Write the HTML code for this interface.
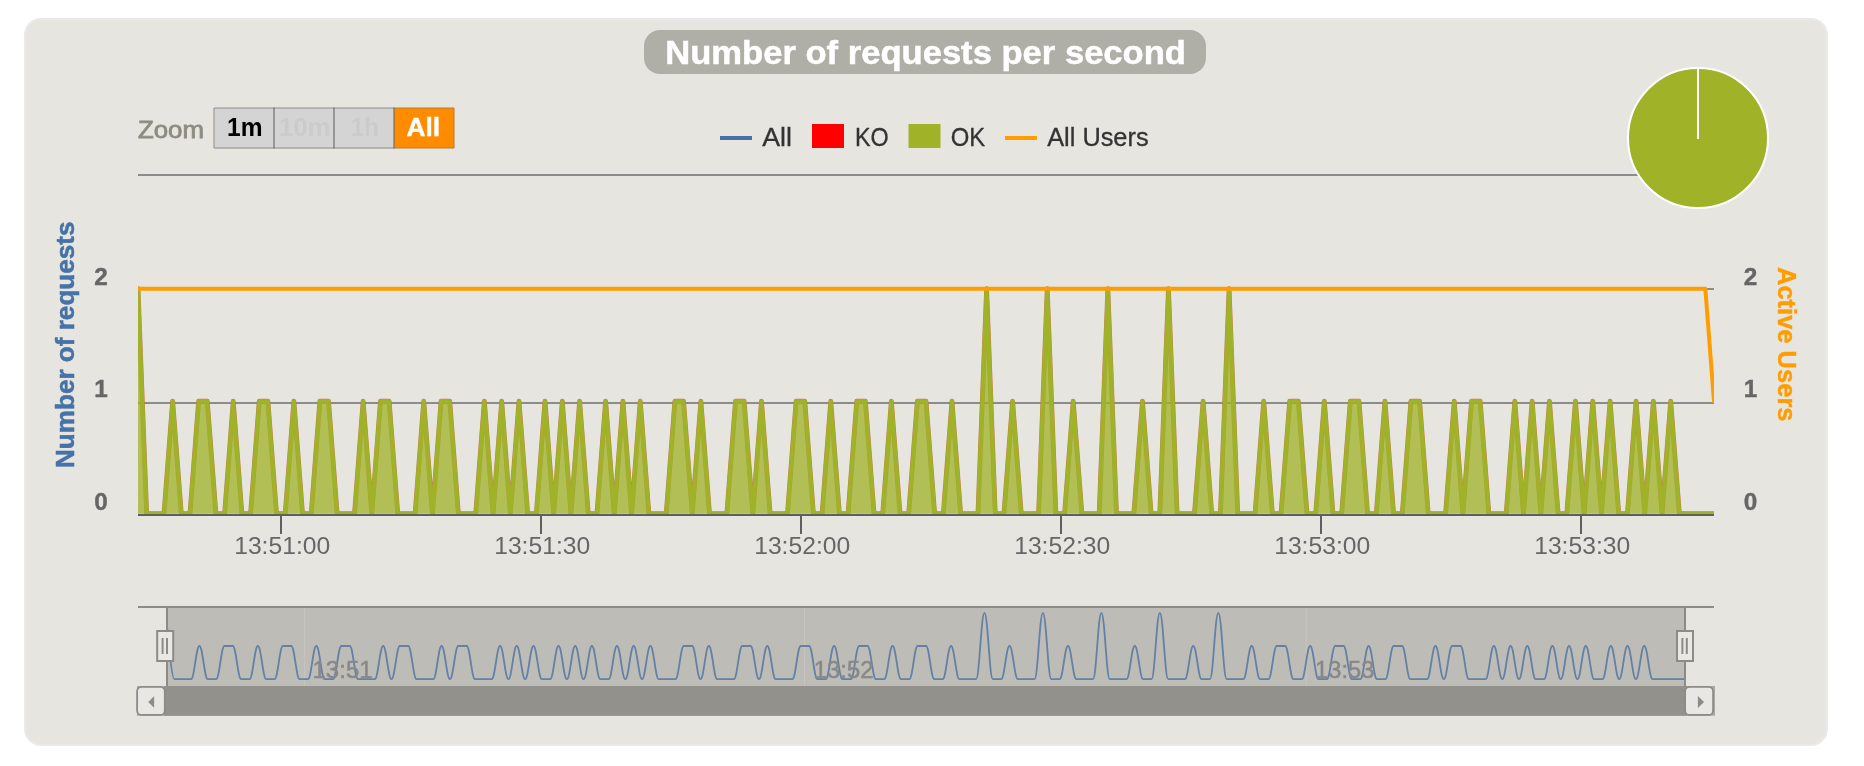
<!DOCTYPE html>
<html><head><meta charset="utf-8"><title>Number of requests per second</title>
<style>
html,body{margin:0;padding:0;background:#fff;}
body{width:1864px;height:766px;overflow:hidden;font-family:"Liberation Sans",sans-serif;}
svg{display:block;will-change:transform;font-family:"Liberation Sans",sans-serif;}
</style></head><body>
<svg width="1864" height="766" viewBox="0 0 1864 766">
<defs><clipPath id="plot"><rect x="138.0" y="170" width="1576.0" height="344"/></clipPath><clipPath id="nav"><rect x="167" y="600" width="1520.5" height="90"/></clipPath></defs>
<rect x="25" y="19" width="1802" height="726" rx="16" ry="16" fill="#E6E5E0" stroke="#EAEAEA" stroke-width="2"/>
<!-- title -->
<rect x="644" y="30" width="562" height="44" rx="16" ry="16" fill="#AFAEA7"/>
<text x="665.2" y="63.8" font-size="33" font-weight="bold" fill="#fff" stroke="#fff" stroke-width="0.5" textLength="520.8" lengthAdjust="spacingAndGlyphs">Number of requests per second</text>
<!-- zoom -->
<text x="138" y="137.5" font-size="24.5" fill="#8D8C80" stroke="#8D8C80" stroke-width="0.8" textLength="66" lengthAdjust="spacingAndGlyphs">Zoom</text>
<rect x="214" y="108" width="180" height="40" fill="#D4D4D4"/>
<rect x="394" y="108" width="60" height="40" fill="#FF8C00"/>
<path d="M214 108 H394 M214 148 H394 M214 108 V148" stroke="#8C8C8C" stroke-width="1" fill="none"/>
<path d="M394 108 H454 V148 H394" stroke="#B87A2E" stroke-width="1" fill="none"/>
<path d="M274 107.5 V148.5 M334 107.5 V148.5 M394 107.5 V148.5" stroke="#6E6E6E" stroke-width="1.2" fill="none"/>
<g font-size="25.4" font-weight="bold">
<text x="227" y="136" fill="#000" textLength="35.5" lengthAdjust="spacingAndGlyphs">1m</text>
<text x="278.7" y="136" fill="#CBCBCB" textLength="52" lengthAdjust="spacingAndGlyphs">10m</text>
<text x="350.8" y="136" fill="#CBCBCB" textLength="28" lengthAdjust="spacingAndGlyphs">1h</text>
<text x="406.5" y="136" fill="#fff" stroke="#fff" stroke-width="0.4" textLength="33.6" lengthAdjust="spacingAndGlyphs">All</text>
</g>
<!-- legend -->
<rect x="720" y="136" width="32" height="4" fill="#4572A7"/>
<rect x="812" y="124" width="32" height="24" fill="#FF0000"/>
<rect x="908.5" y="124" width="32" height="24" fill="#A0B228"/>
<rect x="1005" y="136" width="32" height="4" fill="#FF9D00"/>
<g font-size="25.6" fill="#333" stroke="#333" stroke-width="0.3">
<text x="762.3" y="145.8" textLength="29.7" lengthAdjust="spacingAndGlyphs">All</text>
<text x="854.9" y="145.8" textLength="33.7" lengthAdjust="spacingAndGlyphs">KO</text>
<text x="950.7" y="145.8" textLength="34.5" lengthAdjust="spacingAndGlyphs">OK</text>
<text x="1047.2" y="145.8" textLength="101.4" lengthAdjust="spacingAndGlyphs">All Users</text>
</g>
<!-- gridlines -->
<rect x="138" y="174" width="1576" height="2" fill="#8C8C8C"/>
<rect x="138" y="288" width="1576" height="2" fill="#8C8C8C"/>
<rect x="138" y="402" width="1576" height="2" fill="#8C8C8C"/>
<!-- series -->
<g clip-path="url(#plot)">
<path d="M138.00 288.75 L146.66 513.75 L155.32 513.75 L163.98 513.75 L172.64 401.25 L181.30 513.75 L189.96 513.75 L198.62 401.25 L207.27 401.25 L215.93 513.75 L224.59 513.75 L233.25 401.25 L241.91 513.75 L250.57 513.75 L259.23 401.25 L267.89 401.25 L276.55 513.75 L285.21 513.75 L293.87 401.25 L302.53 513.75 L311.19 513.75 L319.85 401.25 L328.51 401.25 L337.16 513.75 L345.82 513.75 L354.48 513.75 L363.14 401.25 L371.80 513.75 L380.46 401.25 L389.12 401.25 L397.78 513.75 L406.44 513.75 L415.10 513.75 L423.76 401.25 L432.42 513.75 L441.08 401.25 L449.74 401.25 L458.40 513.75 L467.05 513.75 L475.71 513.75 L484.37 401.25 L493.03 513.75 L501.69 401.25 L510.35 513.75 L519.01 401.25 L527.67 513.75 L536.33 513.75 L544.99 401.25 L553.65 513.75 L562.31 401.25 L570.97 513.75 L579.63 401.25 L588.29 513.75 L596.95 513.75 L605.60 401.25 L614.26 513.75 L622.92 401.25 L631.58 513.75 L640.24 401.25 L648.90 513.75 L657.56 513.75 L666.22 513.75 L674.88 401.25 L683.54 401.25 L692.20 513.75 L700.86 401.25 L709.52 513.75 L718.18 513.75 L726.84 513.75 L735.49 401.25 L744.15 401.25 L752.81 513.75 L761.47 401.25 L770.13 513.75 L778.79 513.75 L787.45 513.75 L796.11 401.25 L804.77 401.25 L813.43 513.75 L822.09 513.75 L830.75 401.25 L839.41 513.75 L848.07 513.75 L856.73 401.25 L865.38 401.25 L874.04 513.75 L882.70 513.75 L891.36 401.25 L900.02 513.75 L908.68 513.75 L917.34 401.25 L926.00 401.25 L934.66 513.75 L943.32 513.75 L951.98 401.25 L960.64 513.75 L969.30 513.75 L977.96 513.75 L986.62 288.75 L995.27 513.75 L1003.93 513.75 L1012.59 401.25 L1021.25 513.75 L1029.91 513.75 L1038.57 513.75 L1047.23 288.75 L1055.89 513.75 L1064.55 513.75 L1073.21 401.25 L1081.87 513.75 L1090.53 513.75 L1099.19 513.75 L1107.85 288.75 L1116.51 513.75 L1125.16 513.75 L1133.82 513.75 L1142.48 401.25 L1151.14 513.75 L1159.80 513.75 L1168.46 288.75 L1177.12 513.75 L1185.78 513.75 L1194.44 513.75 L1203.10 401.25 L1211.76 513.75 L1220.42 513.75 L1229.08 288.75 L1237.74 513.75 L1246.40 513.75 L1255.05 513.75 L1263.71 401.25 L1272.37 513.75 L1281.03 513.75 L1289.69 401.25 L1298.35 401.25 L1307.01 513.75 L1315.67 513.75 L1324.33 401.25 L1332.99 513.75 L1341.65 513.75 L1350.31 401.25 L1358.97 401.25 L1367.63 513.75 L1376.29 513.75 L1384.95 401.25 L1393.60 513.75 L1402.26 513.75 L1410.92 401.25 L1419.58 401.25 L1428.24 513.75 L1436.90 513.75 L1445.56 513.75 L1454.22 401.25 L1462.88 513.75 L1471.54 401.25 L1480.20 401.25 L1488.86 513.75 L1497.52 513.75 L1506.18 513.75 L1514.84 401.25 L1523.49 513.75 L1532.15 401.25 L1540.81 513.75 L1549.47 401.25 L1558.13 513.75 L1566.79 513.75 L1575.45 401.25 L1584.11 513.75 L1592.77 401.25 L1601.43 513.75 L1610.09 401.25 L1618.75 513.75 L1627.41 513.75 L1636.07 401.25 L1644.73 513.75 L1653.38 401.25 L1662.04 513.75 L1670.70 401.25 L1679.36 513.75 L1688.02 513.75 L1696.68 513.75 L1705.34 513.75 L1714.00 513.75" fill="none" stroke="#BC7038" stroke-opacity="0.85" stroke-width="4.8" stroke-linejoin="round" stroke-linecap="round"/>
<path d="M138.00 288.75 L146.66 513.75 L155.32 513.75 L163.98 513.75 L172.64 401.25 L181.30 513.75 L189.96 513.75 L198.62 401.25 L207.27 401.25 L215.93 513.75 L224.59 513.75 L233.25 401.25 L241.91 513.75 L250.57 513.75 L259.23 401.25 L267.89 401.25 L276.55 513.75 L285.21 513.75 L293.87 401.25 L302.53 513.75 L311.19 513.75 L319.85 401.25 L328.51 401.25 L337.16 513.75 L345.82 513.75 L354.48 513.75 L363.14 401.25 L371.80 513.75 L380.46 401.25 L389.12 401.25 L397.78 513.75 L406.44 513.75 L415.10 513.75 L423.76 401.25 L432.42 513.75 L441.08 401.25 L449.74 401.25 L458.40 513.75 L467.05 513.75 L475.71 513.75 L484.37 401.25 L493.03 513.75 L501.69 401.25 L510.35 513.75 L519.01 401.25 L527.67 513.75 L536.33 513.75 L544.99 401.25 L553.65 513.75 L562.31 401.25 L570.97 513.75 L579.63 401.25 L588.29 513.75 L596.95 513.75 L605.60 401.25 L614.26 513.75 L622.92 401.25 L631.58 513.75 L640.24 401.25 L648.90 513.75 L657.56 513.75 L666.22 513.75 L674.88 401.25 L683.54 401.25 L692.20 513.75 L700.86 401.25 L709.52 513.75 L718.18 513.75 L726.84 513.75 L735.49 401.25 L744.15 401.25 L752.81 513.75 L761.47 401.25 L770.13 513.75 L778.79 513.75 L787.45 513.75 L796.11 401.25 L804.77 401.25 L813.43 513.75 L822.09 513.75 L830.75 401.25 L839.41 513.75 L848.07 513.75 L856.73 401.25 L865.38 401.25 L874.04 513.75 L882.70 513.75 L891.36 401.25 L900.02 513.75 L908.68 513.75 L917.34 401.25 L926.00 401.25 L934.66 513.75 L943.32 513.75 L951.98 401.25 L960.64 513.75 L969.30 513.75 L977.96 513.75 L986.62 288.75 L995.27 513.75 L1003.93 513.75 L1012.59 401.25 L1021.25 513.75 L1029.91 513.75 L1038.57 513.75 L1047.23 288.75 L1055.89 513.75 L1064.55 513.75 L1073.21 401.25 L1081.87 513.75 L1090.53 513.75 L1099.19 513.75 L1107.85 288.75 L1116.51 513.75 L1125.16 513.75 L1133.82 513.75 L1142.48 401.25 L1151.14 513.75 L1159.80 513.75 L1168.46 288.75 L1177.12 513.75 L1185.78 513.75 L1194.44 513.75 L1203.10 401.25 L1211.76 513.75 L1220.42 513.75 L1229.08 288.75 L1237.74 513.75 L1246.40 513.75 L1255.05 513.75 L1263.71 401.25 L1272.37 513.75 L1281.03 513.75 L1289.69 401.25 L1298.35 401.25 L1307.01 513.75 L1315.67 513.75 L1324.33 401.25 L1332.99 513.75 L1341.65 513.75 L1350.31 401.25 L1358.97 401.25 L1367.63 513.75 L1376.29 513.75 L1384.95 401.25 L1393.60 513.75 L1402.26 513.75 L1410.92 401.25 L1419.58 401.25 L1428.24 513.75 L1436.90 513.75 L1445.56 513.75 L1454.22 401.25 L1462.88 513.75 L1471.54 401.25 L1480.20 401.25 L1488.86 513.75 L1497.52 513.75 L1506.18 513.75 L1514.84 401.25 L1523.49 513.75 L1532.15 401.25 L1540.81 513.75 L1549.47 401.25 L1558.13 513.75 L1566.79 513.75 L1575.45 401.25 L1584.11 513.75 L1592.77 401.25 L1601.43 513.75 L1610.09 401.25 L1618.75 513.75 L1627.41 513.75 L1636.07 401.25 L1644.73 513.75 L1653.38 401.25 L1662.04 513.75 L1670.70 401.25 L1679.36 513.75 L1688.02 513.75 L1696.68 513.75 L1705.34 513.75 L1714.00 513.75 L1714.00 513.75 L138.00 513.75 Z" fill="#A0B228" fill-opacity="0.75"/>
<path d="M138.00 288.75 L146.66 513.75 L155.32 513.75 L163.98 513.75 L172.64 401.25 L181.30 513.75 L189.96 513.75 L198.62 401.25 L207.27 401.25 L215.93 513.75 L224.59 513.75 L233.25 401.25 L241.91 513.75 L250.57 513.75 L259.23 401.25 L267.89 401.25 L276.55 513.75 L285.21 513.75 L293.87 401.25 L302.53 513.75 L311.19 513.75 L319.85 401.25 L328.51 401.25 L337.16 513.75 L345.82 513.75 L354.48 513.75 L363.14 401.25 L371.80 513.75 L380.46 401.25 L389.12 401.25 L397.78 513.75 L406.44 513.75 L415.10 513.75 L423.76 401.25 L432.42 513.75 L441.08 401.25 L449.74 401.25 L458.40 513.75 L467.05 513.75 L475.71 513.75 L484.37 401.25 L493.03 513.75 L501.69 401.25 L510.35 513.75 L519.01 401.25 L527.67 513.75 L536.33 513.75 L544.99 401.25 L553.65 513.75 L562.31 401.25 L570.97 513.75 L579.63 401.25 L588.29 513.75 L596.95 513.75 L605.60 401.25 L614.26 513.75 L622.92 401.25 L631.58 513.75 L640.24 401.25 L648.90 513.75 L657.56 513.75 L666.22 513.75 L674.88 401.25 L683.54 401.25 L692.20 513.75 L700.86 401.25 L709.52 513.75 L718.18 513.75 L726.84 513.75 L735.49 401.25 L744.15 401.25 L752.81 513.75 L761.47 401.25 L770.13 513.75 L778.79 513.75 L787.45 513.75 L796.11 401.25 L804.77 401.25 L813.43 513.75 L822.09 513.75 L830.75 401.25 L839.41 513.75 L848.07 513.75 L856.73 401.25 L865.38 401.25 L874.04 513.75 L882.70 513.75 L891.36 401.25 L900.02 513.75 L908.68 513.75 L917.34 401.25 L926.00 401.25 L934.66 513.75 L943.32 513.75 L951.98 401.25 L960.64 513.75 L969.30 513.75 L977.96 513.75 L986.62 288.75 L995.27 513.75 L1003.93 513.75 L1012.59 401.25 L1021.25 513.75 L1029.91 513.75 L1038.57 513.75 L1047.23 288.75 L1055.89 513.75 L1064.55 513.75 L1073.21 401.25 L1081.87 513.75 L1090.53 513.75 L1099.19 513.75 L1107.85 288.75 L1116.51 513.75 L1125.16 513.75 L1133.82 513.75 L1142.48 401.25 L1151.14 513.75 L1159.80 513.75 L1168.46 288.75 L1177.12 513.75 L1185.78 513.75 L1194.44 513.75 L1203.10 401.25 L1211.76 513.75 L1220.42 513.75 L1229.08 288.75 L1237.74 513.75 L1246.40 513.75 L1255.05 513.75 L1263.71 401.25 L1272.37 513.75 L1281.03 513.75 L1289.69 401.25 L1298.35 401.25 L1307.01 513.75 L1315.67 513.75 L1324.33 401.25 L1332.99 513.75 L1341.65 513.75 L1350.31 401.25 L1358.97 401.25 L1367.63 513.75 L1376.29 513.75 L1384.95 401.25 L1393.60 513.75 L1402.26 513.75 L1410.92 401.25 L1419.58 401.25 L1428.24 513.75 L1436.90 513.75 L1445.56 513.75 L1454.22 401.25 L1462.88 513.75 L1471.54 401.25 L1480.20 401.25 L1488.86 513.75 L1497.52 513.75 L1506.18 513.75 L1514.84 401.25 L1523.49 513.75 L1532.15 401.25 L1540.81 513.75 L1549.47 401.25 L1558.13 513.75 L1566.79 513.75 L1575.45 401.25 L1584.11 513.75 L1592.77 401.25 L1601.43 513.75 L1610.09 401.25 L1618.75 513.75 L1627.41 513.75 L1636.07 401.25 L1644.73 513.75 L1653.38 401.25 L1662.04 513.75 L1670.70 401.25 L1679.36 513.75 L1688.02 513.75 L1696.68 513.75 L1705.34 513.75 L1714.00 513.75" fill="none" stroke="#A0B228" stroke-width="4" stroke-linejoin="round" stroke-linecap="round"/>
</g>
<path d="M138.00 288.75 L1705.34 288.75 L1714.00 401.25" fill="none" stroke="#FF9D00" stroke-width="4" stroke-linejoin="round" stroke-linecap="round" clip-path="url(#plot)"/>
<!-- x axis -->
<rect x="138" y="514" width="1576" height="2" fill="#5F5F5F"/>
<rect x="280" y="514" width="2" height="20" fill="#5F5F5F"/><text x="282.2" y="554" text-anchor="middle" font-size="24.4" fill="#666" textLength="96" lengthAdjust="spacingAndGlyphs">13:51:00</text><rect x="540" y="514" width="2" height="20" fill="#5F5F5F"/><text x="542.2" y="554" text-anchor="middle" font-size="24.4" fill="#666" textLength="96" lengthAdjust="spacingAndGlyphs">13:51:30</text><rect x="800" y="514" width="2" height="20" fill="#5F5F5F"/><text x="802.2" y="554" text-anchor="middle" font-size="24.4" fill="#666" textLength="96" lengthAdjust="spacingAndGlyphs">13:52:00</text><rect x="1060" y="514" width="2" height="20" fill="#5F5F5F"/><text x="1062.2" y="554" text-anchor="middle" font-size="24.4" fill="#666" textLength="96" lengthAdjust="spacingAndGlyphs">13:52:30</text><rect x="1320" y="514" width="2" height="20" fill="#5F5F5F"/><text x="1322.2" y="554" text-anchor="middle" font-size="24.4" fill="#666" textLength="96" lengthAdjust="spacingAndGlyphs">13:53:00</text><rect x="1580" y="514" width="2" height="20" fill="#5F5F5F"/><text x="1582.2" y="554" text-anchor="middle" font-size="24.4" fill="#666" textLength="96" lengthAdjust="spacingAndGlyphs">13:53:30</text>
<!-- y labels -->
<g font-size="24.3" font-weight="bold" fill="#666" stroke="#666" stroke-width="0.4">
<text x="94.2" y="284.5">2</text>
<text x="94.2" y="397">1</text>
<text x="94.2" y="509.5">0</text>
<text x="1743.8" y="284.5">2</text>
<text x="1743.8" y="397">1</text>
<text x="1743.8" y="509.5">0</text>
</g>
<text transform="translate(74.2,468) rotate(-90)" font-size="25.6" font-weight="bold" fill="#4572A7" stroke="#4572A7" stroke-width="0.5" textLength="246.5" lengthAdjust="spacingAndGlyphs">Number of requests</text>
<text transform="translate(1777.5,267) rotate(90)" font-size="25.2" font-weight="bold" fill="#FF9D00" stroke="#FF9D00" stroke-width="0.4" textLength="154.5" lengthAdjust="spacingAndGlyphs">Active Users</text>
<!-- pie -->
<circle cx="1698" cy="138" r="70" fill="#A0B228" stroke="#fff" stroke-width="2"/>
<rect x="1697" y="68" width="2" height="71" fill="#fff"/>
<!-- navigator -->
<rect x="168" y="608" width="1516" height="78" fill="#BEBCB7"/>
<rect x="303.9" y="608" width="1" height="78" fill="#C7C5C0"/><rect x="804.1" y="608" width="1" height="78" fill="#C7C5C0"/><rect x="1305.8" y="608" width="1" height="78" fill="#C7C5C0"/>
<path d="M166.00 612.80 C166.00 612.80 171.01 679.20 174.35 679.20 C177.69 679.20 179.36 679.20 182.70 679.20 C186.04 679.20 187.71 679.20 191.05 679.20 C194.40 679.20 196.07 646.00 199.41 646.00 C202.75 646.00 204.42 679.20 207.76 679.20 C211.10 679.20 212.77 679.20 216.11 679.20 C219.45 679.20 221.12 646.00 224.46 646.00 C227.80 646.00 229.47 646.00 232.81 646.00 C236.15 646.00 237.82 679.20 241.16 679.20 C244.51 679.20 246.18 679.20 249.52 679.20 C252.86 679.20 254.53 646.00 257.87 646.00 C261.21 646.00 262.88 679.20 266.22 679.20 C269.56 679.20 271.23 679.20 274.57 679.20 C277.91 679.20 279.58 646.00 282.92 646.00 C286.26 646.00 287.93 646.00 291.27 646.00 C294.62 646.00 296.29 679.20 299.63 679.20 C302.97 679.20 304.64 679.20 307.98 679.20 C311.32 679.20 312.99 646.00 316.33 646.00 C319.67 646.00 321.34 679.20 324.68 679.20 C328.02 679.20 329.69 679.20 333.03 679.20 C336.37 679.20 338.04 646.00 341.38 646.00 C344.73 646.00 346.40 646.00 349.74 646.00 C353.08 646.00 354.75 679.20 358.09 679.20 C361.43 679.20 363.10 679.20 366.44 679.20 C369.78 679.20 371.45 679.20 374.79 679.20 C378.13 679.20 379.80 646.00 383.14 646.00 C386.48 646.00 388.15 679.20 391.49 679.20 C394.84 679.20 396.51 646.00 399.85 646.00 C403.19 646.00 404.86 646.00 408.20 646.00 C411.54 646.00 413.21 679.20 416.55 679.20 C419.89 679.20 421.56 679.20 424.90 679.20 C428.24 679.20 429.91 679.20 433.25 679.20 C436.59 679.20 438.26 646.00 441.60 646.00 C444.95 646.00 446.62 679.20 449.96 679.20 C453.30 679.20 454.97 646.00 458.31 646.00 C461.65 646.00 463.32 646.00 466.66 646.00 C470.00 646.00 471.67 679.20 475.01 679.20 C478.35 679.20 480.02 679.20 483.36 679.20 C486.70 679.20 488.37 679.20 491.71 679.20 C495.05 679.20 496.73 646.00 500.07 646.00 C503.41 646.00 505.08 679.20 508.42 679.20 C511.76 679.20 513.43 646.00 516.77 646.00 C520.11 646.00 521.78 679.20 525.12 679.20 C528.46 679.20 530.13 646.00 533.47 646.00 C536.81 646.00 538.48 679.20 541.82 679.20 C545.16 679.20 546.84 679.20 550.18 679.20 C553.52 679.20 555.19 646.00 558.53 646.00 C561.87 646.00 563.54 679.20 566.88 679.20 C570.22 679.20 571.89 646.00 575.23 646.00 C578.57 646.00 580.24 679.20 583.58 679.20 C586.92 679.20 588.59 646.00 591.93 646.00 C595.27 646.00 596.95 679.20 600.29 679.20 C603.63 679.20 605.30 679.20 608.64 679.20 C611.98 679.20 613.65 646.00 616.99 646.00 C620.33 646.00 622.00 679.20 625.34 679.20 C628.68 679.20 630.35 646.00 633.69 646.00 C637.03 646.00 638.70 679.20 642.04 679.20 C645.38 679.20 647.05 646.00 650.40 646.00 C653.74 646.00 655.41 679.20 658.75 679.20 C662.09 679.20 663.76 679.20 667.10 679.20 C670.44 679.20 672.11 679.20 675.45 679.20 C678.79 679.20 680.46 646.00 683.80 646.00 C687.14 646.00 688.81 646.00 692.15 646.00 C695.49 646.00 697.16 679.20 700.51 679.20 C703.85 679.20 705.52 646.00 708.86 646.00 C712.20 646.00 713.87 679.20 717.21 679.20 C720.55 679.20 722.22 679.20 725.56 679.20 C728.90 679.20 730.57 679.20 733.91 679.20 C737.25 679.20 738.92 646.00 742.26 646.00 C745.60 646.00 747.27 646.00 750.62 646.00 C753.96 646.00 755.63 679.20 758.97 679.20 C762.31 679.20 763.98 646.00 767.32 646.00 C770.66 646.00 772.33 679.20 775.67 679.20 C779.01 679.20 780.68 679.20 784.02 679.20 C787.36 679.20 789.03 679.20 792.37 679.20 C795.71 679.20 797.38 646.00 800.73 646.00 C804.07 646.00 805.74 646.00 809.08 646.00 C812.42 646.00 814.09 679.20 817.43 679.20 C820.77 679.20 822.44 679.20 825.78 679.20 C829.12 679.20 830.79 646.00 834.13 646.00 C837.47 646.00 839.14 679.20 842.48 679.20 C845.82 679.20 847.49 679.20 850.84 679.20 C854.18 679.20 855.85 646.00 859.19 646.00 C862.53 646.00 864.20 646.00 867.54 646.00 C870.88 646.00 872.55 679.20 875.89 679.20 C879.23 679.20 880.90 679.20 884.24 679.20 C887.58 679.20 889.25 646.00 892.59 646.00 C895.93 646.00 897.60 679.20 900.95 679.20 C904.29 679.20 905.96 679.20 909.30 679.20 C912.64 679.20 914.31 646.00 917.65 646.00 C920.99 646.00 922.66 646.00 926.00 646.00 C929.34 646.00 931.01 679.20 934.35 679.20 C937.69 679.20 939.36 679.20 942.70 679.20 C946.04 679.20 947.71 646.00 951.05 646.00 C954.40 646.00 956.07 679.20 959.41 679.20 C962.75 679.20 964.42 679.20 967.76 679.20 C971.10 679.20 972.77 679.20 976.11 679.20 C979.45 679.20 981.12 612.80 984.46 612.80 C987.80 612.80 989.47 679.20 992.81 679.20 C996.15 679.20 997.82 679.20 1001.16 679.20 C1004.51 679.20 1006.18 646.00 1009.52 646.00 C1012.86 646.00 1014.53 679.20 1017.87 679.20 C1021.21 679.20 1022.88 679.20 1026.22 679.20 C1029.56 679.20 1031.23 679.20 1034.57 679.20 C1037.91 679.20 1039.58 612.80 1042.92 612.80 C1046.26 612.80 1047.93 679.20 1051.27 679.20 C1054.62 679.20 1056.29 679.20 1059.63 679.20 C1062.97 679.20 1064.64 646.00 1067.98 646.00 C1071.32 646.00 1072.99 679.20 1076.33 679.20 C1079.67 679.20 1081.34 679.20 1084.68 679.20 C1088.02 679.20 1089.69 679.20 1093.03 679.20 C1096.37 679.20 1098.04 612.80 1101.38 612.80 C1104.73 612.80 1106.40 679.20 1109.74 679.20 C1113.08 679.20 1114.75 679.20 1118.09 679.20 C1121.43 679.20 1123.10 679.20 1126.44 679.20 C1129.78 679.20 1131.45 646.00 1134.79 646.00 C1138.13 646.00 1139.80 679.20 1143.14 679.20 C1146.48 679.20 1148.15 679.20 1151.49 679.20 C1154.84 679.20 1156.51 612.80 1159.85 612.80 C1163.19 612.80 1164.86 679.20 1168.20 679.20 C1171.54 679.20 1173.21 679.20 1176.55 679.20 C1179.89 679.20 1181.56 679.20 1184.90 679.20 C1188.24 679.20 1189.91 646.00 1193.25 646.00 C1196.59 646.00 1198.26 679.20 1201.60 679.20 C1204.95 679.20 1206.62 679.20 1209.96 679.20 C1213.30 679.20 1214.97 612.80 1218.31 612.80 C1221.65 612.80 1223.32 679.20 1226.66 679.20 C1230.00 679.20 1231.67 679.20 1235.01 679.20 C1238.35 679.20 1240.02 679.20 1243.36 679.20 C1246.70 679.20 1248.37 646.00 1251.71 646.00 C1255.05 646.00 1256.73 679.20 1260.07 679.20 C1263.41 679.20 1265.08 679.20 1268.42 679.20 C1271.76 679.20 1273.43 646.00 1276.77 646.00 C1280.11 646.00 1281.78 646.00 1285.12 646.00 C1288.46 646.00 1290.13 679.20 1293.47 679.20 C1296.81 679.20 1298.48 679.20 1301.82 679.20 C1305.16 679.20 1306.84 646.00 1310.18 646.00 C1313.52 646.00 1315.19 679.20 1318.53 679.20 C1321.87 679.20 1323.54 679.20 1326.88 679.20 C1330.22 679.20 1331.89 646.00 1335.23 646.00 C1338.57 646.00 1340.24 646.00 1343.58 646.00 C1346.92 646.00 1348.59 679.20 1351.93 679.20 C1355.27 679.20 1356.95 679.20 1360.29 679.20 C1363.63 679.20 1365.30 646.00 1368.64 646.00 C1371.98 646.00 1373.65 679.20 1376.99 679.20 C1380.33 679.20 1382.00 679.20 1385.34 679.20 C1388.68 679.20 1390.35 646.00 1393.69 646.00 C1397.03 646.00 1398.70 646.00 1402.04 646.00 C1405.38 646.00 1407.05 679.20 1410.40 679.20 C1413.74 679.20 1415.41 679.20 1418.75 679.20 C1422.09 679.20 1423.76 679.20 1427.10 679.20 C1430.44 679.20 1432.11 646.00 1435.45 646.00 C1438.79 646.00 1440.46 679.20 1443.80 679.20 C1447.14 679.20 1448.81 646.00 1452.15 646.00 C1455.49 646.00 1457.16 646.00 1460.51 646.00 C1463.85 646.00 1465.52 679.20 1468.86 679.20 C1472.20 679.20 1473.87 679.20 1477.21 679.20 C1480.55 679.20 1482.22 679.20 1485.56 679.20 C1488.90 679.20 1490.57 646.00 1493.91 646.00 C1497.25 646.00 1498.92 679.20 1502.26 679.20 C1505.60 679.20 1507.27 646.00 1510.62 646.00 C1513.96 646.00 1515.63 679.20 1518.97 679.20 C1522.31 679.20 1523.98 646.00 1527.32 646.00 C1530.66 646.00 1532.33 679.20 1535.67 679.20 C1539.01 679.20 1540.68 679.20 1544.02 679.20 C1547.36 679.20 1549.03 646.00 1552.37 646.00 C1555.71 646.00 1557.38 679.20 1560.73 679.20 C1564.07 679.20 1565.74 646.00 1569.08 646.00 C1572.42 646.00 1574.09 679.20 1577.43 679.20 C1580.77 679.20 1582.44 646.00 1585.78 646.00 C1589.12 646.00 1590.79 679.20 1594.13 679.20 C1597.47 679.20 1599.14 679.20 1602.48 679.20 C1605.82 679.20 1607.49 646.00 1610.84 646.00 C1614.18 646.00 1615.85 679.20 1619.19 679.20 C1622.53 679.20 1624.20 646.00 1627.54 646.00 C1630.88 646.00 1632.55 679.20 1635.89 679.20 C1639.23 679.20 1640.90 646.00 1644.24 646.00 C1647.58 646.00 1649.25 679.20 1652.59 679.20 C1655.93 679.20 1657.60 679.20 1660.95 679.20 C1664.29 679.20 1665.96 679.20 1669.30 679.20 C1672.64 679.20 1674.31 679.20 1677.65 679.20 C1680.99 679.20 1686.00 679.20 1686.00 679.20" fill="none" stroke="#6281A5" stroke-width="1.8" stroke-linejoin="round" clip-path="url(#nav)"/>
<text x="312.5" y="677.8" font-size="24.4" fill="#888" stroke="#888" stroke-width="0.5" textLength="60.1" lengthAdjust="spacingAndGlyphs">13:51</text><text x="813.8" y="677.8" font-size="24.4" fill="#888" stroke="#888" stroke-width="0.5" textLength="59.8" lengthAdjust="spacingAndGlyphs">13:52</text><text x="1315.1" y="677.8" font-size="24.4" fill="#888" stroke="#888" stroke-width="0.5" textLength="59.2" lengthAdjust="spacingAndGlyphs">13:53</text>
<rect x="138" y="606" width="1576" height="2" fill="#8C8B86"/>
<rect x="166" y="608" width="2" height="78" fill="#8C8B86"/>
<rect x="1684" y="608" width="2" height="78" fill="#8C8B86"/>
<rect x="157.2" y="631.0" width="16" height="30" fill="#E9E8E4" stroke="#8C8B86" stroke-width="2"/><path d="M162.6 638 V654 M167.0 638 V654" stroke="#8C8B86" stroke-width="2" fill="none"/>
<rect x="1677.0" y="631.0" width="16" height="30" fill="#E9E8E4" stroke="#8C8B86" stroke-width="2"/><path d="M1682.4 638 V654 M1686.8 638 V654" stroke="#8C8B86" stroke-width="2" fill="none"/>
<!-- scrollbar -->
<rect x="137" y="686" width="1578" height="29.7" fill="#ABA9A4"/>
<rect x="164" y="686" width="1523" height="29.7" fill="#93918C"/>
<rect x="137.1" y="686.9" width="27.7" height="28" rx="4.5" ry="4.5" fill="#E8E7E3" stroke="#8C8B86" stroke-width="1.8"/>
<rect x="1685.1" y="686.9" width="28" height="28" rx="4.5" ry="4.5" fill="#E8E7E3" stroke="#8C8B86" stroke-width="1.8"/>
<path d="M154.1 696.2 L154.1 707.7 L148.2 702 Z" fill="#8C8B86"/>
<path d="M1697.9 696 L1697.9 708 L1704 702 Z" fill="#8C8B86"/>
</svg>
</body></html>
